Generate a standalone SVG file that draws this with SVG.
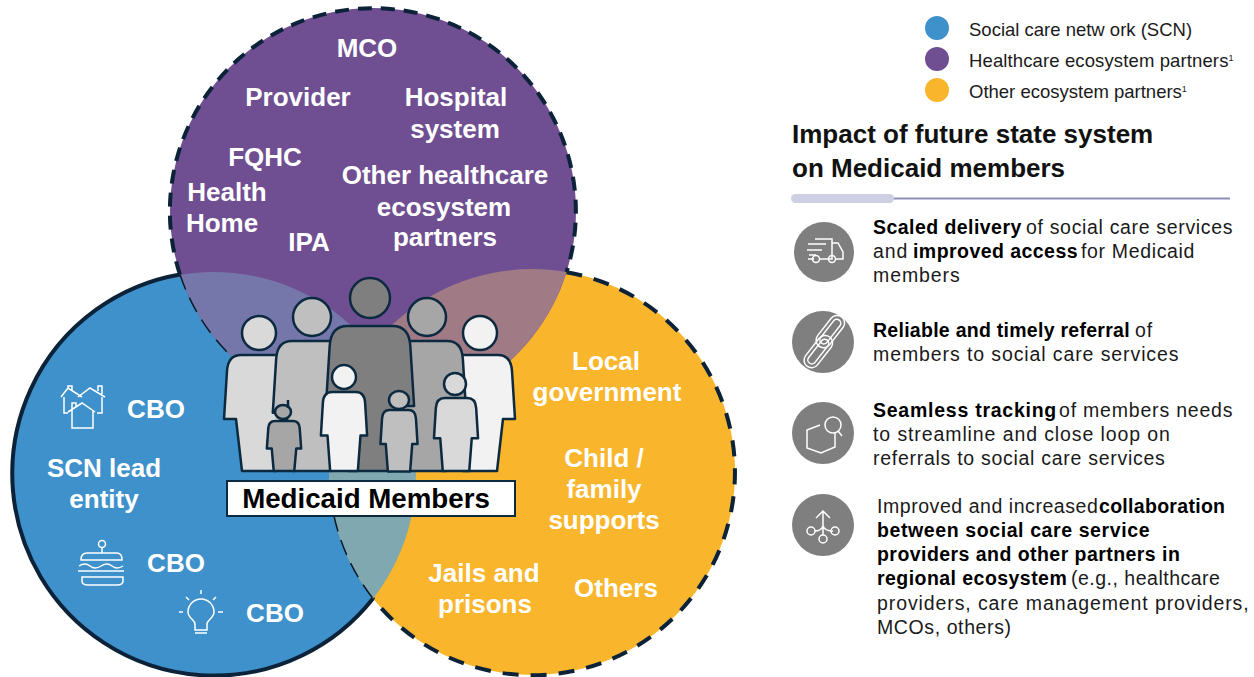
<svg xmlns="http://www.w3.org/2000/svg" width="1254" height="677" viewBox="0 0 1254 677">
<style>
text{font-family:"Liberation Sans",Arial,sans-serif}
.lab{font-weight:700;font-size:26px;fill:#fff;text-anchor:middle}
.tx{font-size:19.5px;fill:#1a1a1a;letter-spacing:.9px}
.b{font-weight:700;fill:#000;letter-spacing:.45px}
.leg{font-size:18.5px;fill:#1a1a1a;letter-spacing:0}
.sup{font-size:9px;letter-spacing:0}
.thick{fill:none;stroke:#0b2238;stroke-width:4;stroke-dasharray:14 9}
.thin{fill:none;stroke:#0b1a28;stroke-width:1.5;stroke-dasharray:16 9}
.ig{fill:none;stroke:#fff;stroke-width:1.5}
.p{stroke:#0b2a40;stroke-width:2.5;stroke-linejoin:round;vector-effect:non-scaling-stroke}
.h{stroke:#0b2a40;stroke-width:2.5}
</style>
<defs>
<clipPath id="cb"><circle cx="214" cy="474" r="202"/></clipPath>
<clipPath id="co"><circle cx="532" cy="472" r="203"/></clipPath>
<path id="person" class="p" d="M-17,116 L-23,64 L-35,64 L-32,16 Q-31,0 -18,0 L18,0 Q31,0 32,16 L35,64 L23,64 L17,116 Z"/>
<path id="kid" class="p" d="M-21,116 L-25,64 L-35,64 L-32,16 Q-31,0 -18,0 L18,0 Q31,0 32,16 L35,64 L25,64 L21,116 Z"/>
</defs>
<rect width="1254" height="677" fill="#fff"/>
<g id="venn">
<g id="circle-blue"><circle cx="214" cy="474" r="202" fill="#3f91cb"/></g>
<g id="circle-orange"><circle cx="532" cy="472" r="203" fill="#f9b52b"/></g>
<g id="circle-purple"><circle cx="373" cy="211" r="203" fill="#6f4f92"/></g>
<g clip-path="url(#cb)"><circle cx="373" cy="211" r="203" fill="#7577ab"/><circle cx="532" cy="472" r="203" fill="#80a8b0"/></g>
<g clip-path="url(#co)"><circle cx="373" cy="211" r="203" fill="#a07a85"/></g>
</g>
<g id="connectors">
<path class="thick" d="M180,274.500 A203,203 0 1 1 566.500,272.200"/>
<path class="thick" style="stroke-dasharray:16 12" d="M566.500,272.200 A203,203 0 1 1 373,598.500"/>
<path d="M373,598.500 A202,202 0 1 1 180,274.500" fill="none" stroke="#0b2238" stroke-width="4"/>
<path class="thin" d="M334,516 A203,203 0 0 0 373,598.500"/>
<path class="thin" d="M180,274.500 A203,203 0 0 0 228,353"/>
</g>
<g id="medicaid-members">
<g id="adult-left"><use href="#person" transform="translate(259,355)" fill="#d9d9d9"/><circle class="h" cx="259" cy="333" r="17" fill="#d9d9d9"/></g>
<g id="adult-right"><use href="#person" transform="translate(480,355)" fill="#f2f2f2"/><circle class="h" cx="480" cy="333" r="17" fill="#f2f2f2"/></g>
<g id="adult-midleft"><use href="#person" transform="translate(312,341) scale(1.12)" fill="#bfbfbf"/><circle class="h" cx="312" cy="317" r="19" fill="#bfbfbf"/></g>
<g id="adult-midright"><use href="#person" transform="translate(427,341) scale(1.12)" fill="#a6a6a6"/><circle class="h" cx="427" cy="317" r="19" fill="#a6a6a6"/></g>
<g id="adult-center"><use href="#person" transform="translate(370,326) scale(1.26,1.25)" fill="#7f7f7f"/><circle class="h" cx="370" cy="298" r="20" fill="#7f7f7f"/></g>
<g id="child-1"><use href="#kid" transform="translate(284,421) scale(.49,.43)" fill="#a6a6a6"/><ellipse class="h" cx="283" cy="412" rx="8" ry="7" fill="#a6a6a6"/><path class="h" d="M288,400V408"/></g>
<g id="child-2"><use href="#kid" transform="translate(344,392) scale(.66,.68)" fill="#f2f2f2"/><circle class="h" cx="344" cy="377" r="12" fill="#f2f2f2"/></g>
<g id="child-3"><use href="#kid" transform="translate(399,410) scale(.53,.53)" fill="#bfbfbf"/><ellipse class="h" cx="399" cy="400" rx="10" ry="9" fill="#bfbfbf"/></g>
<g id="child-4"><use href="#kid" transform="translate(456,398) scale(.63)" fill="#d9d9d9"/><circle class="h" cx="455" cy="384" r="11" fill="#d9d9d9"/></g>
<rect x="227" y="481" width="288" height="35" fill="#fff" stroke="#0b2a40" stroke-width="2"/>
<text x="366" y="508" font-size="27.700" font-weight="700" text-anchor="middle" fill="#000">Medicaid Members</text>
</g>
<g id="purple-labels">
<text class="lab" x="367" y="57">MCO</text>
<text class="lab" x="298" y="106">Provider</text>
<text class="lab" x="456" y="106">Hospital</text>
<text class="lab" x="455" y="138">system</text>
<text class="lab" x="265" y="166">FQHC</text>
<text class="lab" x="227" y="201">Health</text>
<text class="lab" x="222" y="232">Home</text>
<text class="lab" x="309" y="251">IPA</text>
<text class="lab" x="445" y="184">Other healthcare</text>
<text class="lab" x="444" y="216">ecosystem</text>
<text class="lab" x="445" y="246">partners</text>
</g>
<g id="orange-labels">
<text class="lab" x="606" y="370">Local</text>
<text class="lab" x="607" y="401">government</text>
<text class="lab" x="604" y="467">Child /</text>
<text class="lab" x="604" y="498">family</text>
<text class="lab" x="604" y="529">supports</text>
<text class="lab" x="484" y="582">Jails and</text>
<text class="lab" x="485" y="613">prisons</text>
<text class="lab" x="616" y="597">Others</text>
</g>
<g id="blue-labels">
<text class="lab" x="156" y="418">CBO</text>
<text class="lab" x="104" y="477">SCN lead</text>
<text class="lab" x="104" y="508">entity</text>
<text class="lab" x="176" y="572">CBO</text>
<text class="lab" x="275" y="622">CBO</text>
<g id="icon-houses" class="ig"><path d="M61,397L68,388L82,397M64,397V413H68M68,388V386H72V391"/><path d="M78,397L90,388L105,397M102,397V413H97M98,391V386H102V394"/><path d="M68,412L82,403L95,412M72,409V428H93V410M72,409V403H76V406"/></g>
<g id="icon-cake" class="ig"><circle cx="102" cy="544" r="3.500"/><path d="M102,548V553M81,560Q81,553 87,553H117Q122,553 122,560ZM79,566Q85,562 90,566T101,566T112,566T123,566M78,571H124M82,577H123V581Q123,585 117,585H88Q82,585 82,581Z"/></g>
<g id="icon-bulb" class="ig"><path d="M195,630V624C195,620 188,618 188,612A13,13 0 1 1 214,612C214,618 207,620 207,624V630ZM195,633H207M201,590V594M186,597L189,600M216,597L213,600M179,612H183M218,612H223"/></g>
</g>
<g id="legend">
<circle cx="937" cy="28" r="12" fill="#3f91cb"/><circle cx="937" cy="59" r="12" fill="#6f4f92"/><circle cx="937" cy="90" r="12" fill="#f9b52b"/>
<text class="leg" x="969" y="36">Social care netw ork (SCN)</text>
<text class="leg" x="969" y="67" style="letter-spacing:.12px">Healthcare ecosystem partners<tspan class="sup" dy="-6">1</tspan></text>
<text class="leg" x="969" y="98">Other ecosystem partners<tspan class="sup" dy="-6">1</tspan></text>
</g>
<g id="panel">
<text x="792" y="143" font-size="26" font-weight="700" fill="#111">Impact of future state system</text>
<text x="792" y="177" font-size="26" font-weight="700" fill="#111">on Medicaid members</text>
<path d="M890,198.500H1230" stroke="#8b8fb5" stroke-width="2"/>
<rect x="791" y="194" width="103" height="9" rx="4.500" fill="#cdd0e3"/>
<g id="item-1"><circle cx="824" cy="252" r="30" fill="#7f7f7f"/>
<g class="ig"><path d="M815,239H832V259H820M832,243H838L843,252V259H836M814,259H808M808,244H826M807,250H822M809,255H816"/><circle cx="816" cy="259" r="3.500"/><circle cx="832" cy="259" r="3.500"/></g>
<text class="tx" x="873" y="234"><tspan class="b">Scaled delivery </tspan><tspan x="1026" style="letter-spacing:.67px">of social care services</tspan></text>
<text class="tx" x="873" y="258">and <tspan class="b" x="913">improved access </tspan><tspan x="1081" style="letter-spacing:.65px">for Medicaid</tspan></text>
<text class="tx" x="873" y="282">members</text></g>
<g id="item-2"><circle cx="823" cy="342" r="31" fill="#7f7f7f"/>
<g class="ig"><rect x="812" y="324.500" width="37" height="15" rx="7.500" transform="rotate(-52 830 332)"/><rect x="816" y="328" width="29" height="8" rx="4" transform="rotate(-52 830 332)"/><rect x="800" y="344.500" width="37" height="15" rx="7.500" transform="rotate(-52 818 352)"/><rect x="804" y="348" width="29" height="8" rx="4" transform="rotate(-52 818 352)"/></g>
<text class="tx" x="873" y="337"><tspan class="b" style="letter-spacing:.27px">Reliable and timely referral </tspan><tspan x="1135">of</tspan></text>
<text class="tx" x="873" y="361">members to social care services</text></g>
<g id="item-3"><circle cx="823" cy="433" r="31" fill="#7f7f7f"/>
<g class="ig"><path d="M820,425L807,430V448L821,453L835,447V432"/><circle cx="833" cy="425" r="8"/><path d="M838,431L842,436"/></g>
<text class="tx" x="873" y="417"><tspan class="b" style="letter-spacing:.75px">Seamless tracking </tspan><tspan x="1059" style="letter-spacing:.8px">of members needs</tspan></text>
<text class="tx" x="873" y="441">to streamline and close loop on</text>
<text class="tx" x="873" y="465" style="letter-spacing:.72px">referrals to social care services</text></g>
<g id="item-4"><circle cx="823" cy="525" r="31" fill="#7f7f7f"/>
<g class="ig"><path d="M823,511V535M816,518L823,511L830,518M823,526Q821,531 815,531M823,526Q825,531 833,531"/><circle cx="811" cy="531" r="4"/><circle cx="835" cy="531" r="4"/><circle cx="823" cy="539" r="4"/></g>
<text class="tx" x="877" y="513" style="letter-spacing:.55px">Improved and increased <tspan class="b" x="1099" style="letter-spacing:.3px">collaboration</tspan></text>
<text class="tx b" x="877" y="537" style="letter-spacing:.6px">between social care service</text>
<text class="tx b" x="877" y="561">providers and other partners in</text>
<text class="tx" x="877" y="585"><tspan class="b">regional ecosystem </tspan><tspan x="1071" style="letter-spacing:.5px">(e.g., healthcare</tspan></text>
<text class="tx" x="877" y="610">providers, care management providers,</text>
<text class="tx" x="877" y="634" style="letter-spacing:.6px">MCOs, others)</text></g>
</g>
</svg>
